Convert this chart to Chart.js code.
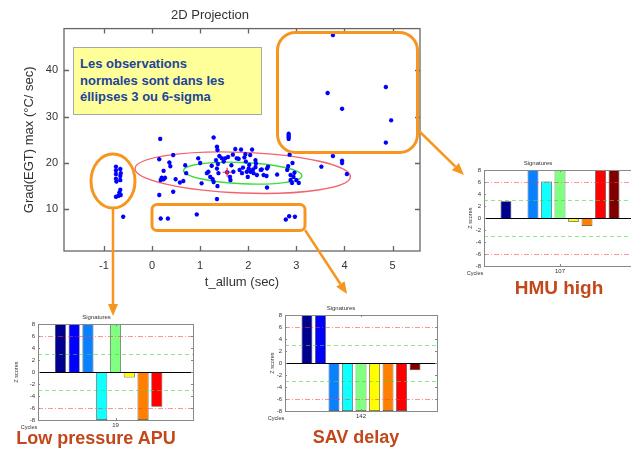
<!DOCTYPE html>
<html>
<head>
<meta charset="utf-8">
<script src="https://cdn.jsdelivr.net/npm/chart.js@4"></script>
<style>
    html, body { margin: 0; padding: 0; width: 631px; height: 449px; overflow: hidden; background: #fff; }
    body { position: relative; font-family: "Liberation Sans", Arial, sans-serif; }
    canvas { position: absolute; }
    .note {
        position: absolute; left: 73px; top: 47px; width: 189px; height: 68px; box-sizing: border-box;
        background: #ffff99; border: 1px solid #a8a8a8;
        padding: 8px 0 0 6px; color: #22449a; font-weight: bold; font-size: 13px; line-height: 16.7px;
    }
    .tag {
        position: absolute; width: 220px; text-align: center; color: #c2481c;
        font-weight: bold; line-height: 1; white-space: nowrap;
    }
</style>
</head>
<body>
<canvas id="projection" width="440" height="300" style="left:0;top:0"></canvas>
<div class="note">Les observations<br>normales sont dans les<br>éllipses 3 ou 6-sigma</div>
<canvas id="sigHmu" width="200" height="131" style="left:440px;top:150px"></canvas>
<canvas id="sigApu" width="200" height="131" style="left:0;top:304px"></canvas>
<canvas id="sigSav" width="200" height="131" style="left:245px;top:295px"></canvas>
<div class="tag" style="left:449px;top:278px;font-size:19px">HMU high</div>
<div class="tag" style="left:-14px;top:429px;font-size:18px">Low pressure APU</div>
<div class="tag" style="left:246px;top:428px;font-size:18px">SAV delay</div>
<canvas id="overlay" width="631" height="449" style="left:0;top:0;pointer-events:none"></canvas>

<script>
// --- 2D projection data ---
const xTicks = [-1, 0, 1, 2, 3, 4, 5];
const yTicks = [10, 20, 30, 40];

// nominal cloud
const cloudX = [0.15, 0.24, 0.20, 0.24, 0.27, 0.18, 0.15, 0.36, 0.38, 0.44, 0.44, 0.49, 0.58, 0.65, 0.69, 0.71,
    0.96, 1.00, 1.03, 1.14, 1.17, 1.24, 1.21, 1.26, 1.28, 1.35, 1.36, 1.40, 1.33, 1.37, 1.35, 1.38, 1.36, 1.35,
    1.45, 1.52, 1.49, 1.56, 1.65, 1.69, 1.63, 1.73, 1.76, 1.82, 1.87, 1.89, 1.92, 1.94, 1.97, 1.99, 2.04, 2.08,
    2.01, 2.05, 2.11, 2.10, 2.15, 2.15, 2.18, 2.26, 2.32, 2.38, 2.39, 2.60, 2.81, 2.92, 2.88, 2.94, 2.96, 2.88,
    2.91, 3.00, 3.05, 0.17, 1.28, 1.85, 2.39, 2.28, 2.83, 2.86, 1.58, 1.68, 1.80, 1.62, 2.02, 1.95, 2.16, 2.41,
    3.52, 4.05, 3.76, 3.95, 3.95];
const cloudY = [20.8, 18.3, 16.8, 16.5, 16.8, 16.3, 13.1, 20.1, 19.3, 21.7, 13.8, 16.5, 15.8, 16.1, 19.5, 17.8,
    21.0, 20.0, 15.6, 17.8, 18.1, 19.4, 17.0, 16.5, 15.9, 23.5, 22.8, 21.5, 20.6, 19.8, 18.8, 17.8, 15.0, 12.2,
    21.0, 21.0, 20.3, 18.0, 19.5, 18.1, 16.3, 23.0, 21.0, 18.5, 17.8, 19.0, 21.2, 21.9, 18.1, 17.0, 21.7, 22.9,
    18.8, 18.1, 17.8, 18.6, 20.6, 19.1, 17.4, 18.5, 17.4, 17.2, 18.8, 17.5, 18.5, 20.0, 17.4, 17.0, 17.9, 16.3,
    15.7, 16.3, 15.7, 25.2, 25.5, 22.9, 14.7, 18.6, 19.3, 21.8, 21.3, 21.8, 20.9, 17.0, 19.6, 20.3, 19.9, 19.2,
    19.2, 17.6, 21.5, 20.5, 20.0];

// low pressure APU group
const apuX = [-0.75, -0.66, -0.75, -0.65, -0.75, -0.66, -0.75, -0.66, -0.74, -0.66, -0.68, -0.65, -0.75, -0.70, -0.60];
const apuY = [19.2, 18.7, 18.4, 17.8, 17.6, 17.2, 16.6, 16.3, 16.0, 14.2, 13.6, 13.1, 12.7, 12.9, 8.4];

// SAV delay group
const savX = [0.18, 0.33, 0.93, 2.78, 2.85, 2.97];
const savY = [8.0, 8.0, 8.9, 7.8, 8.5, 8.4];

// HMU high group
const hmuX = [3.76, 3.65, 3.95, 4.86, 4.97, 4.86, 2.84, 2.84, 2.84, 2.84];
const hmuY = [47.6, 35.1, 31.7, 36.4, 29.2, 24.4, 25.2, 25.6, 26.0, 26.3];

const meanX = [1.56];
const meanY = [18.0];

// sigma ellipses: centre, half axes (data units), tilt (deg)
const sixSigma = { cx: 1.885, cy: 17.9, rx: 2.24, ry: 4.4, tilt: 2.2 };
const threeSigma = { cx: 1.885, cy: 17.8, rx: 1.23, ry: 2.3, tilt: 2.6 };

// --- signatures ---
const sigmaLevels = [3, 6];
const hmuCycle = ["107"];
const hmuScores = [2.8, -0.1, 8, 6.1, 8, -0.6, -1.3, 8, 8];
const apuCycle = ["19"];
const apuScores = [8, 8, 8, -8, 8, -0.9, -8, -5.8, -0.1];
const savCycle = ["142"];
const savScores = [8, 8, -8, -8, -8, -8, -8, -8, -1.2];
const jetColors = ["#00008f", "#0000ff", "#0a80ff", "#10ffff", "#80ff80", "#ffff00", "#ff8000", "#ff0000", "#800000"];

Chart.defaults.font.family = "'Liberation Sans', Arial, sans-serif";
Chart.defaults.color = "#333";

const toPoints = (xs, ys) => xs.map((x, i) => ({ x, y: ys[i] }));

const projectionDecor = {
    id: "projectionDecor",
    beforeDatasetsDraw(chart) {
        const { ctx, scales: { x, y } } = chart;
        [[sixSigma, "#f4636d"], [threeSigma, "#3ade3a"]].forEach(([e, color]) => {
            const cx = x.getPixelForValue(e.cx);
            const cy = y.getPixelForValue(e.cy);
            const rx = x.getPixelForValue(e.cx + e.rx) - cx;
            const ry = cy - y.getPixelForValue(e.cy + e.ry);
            ctx.save();
            ctx.strokeStyle = color;
            ctx.lineWidth = 1.4;
            ctx.beginPath();
            ctx.ellipse(cx, cy, rx, ry, e.tilt * Math.PI / 180, 0, Math.PI * 2);
            ctx.stroke();
            ctx.restore();
        });
    },
    afterDraw(chart) {
        const { ctx, chartArea: { left, right, top, bottom }, scales: { x, y } } = chart;
        ctx.save();
        ctx.strokeStyle = "#666";
        ctx.lineWidth = 1.3;
        ctx.strokeRect(left, top, right - left, bottom - top);
        ctx.beginPath();
        xTicks.forEach(v => {
            const px = Math.round(x.getPixelForValue(v)) + 0.5;
            ctx.moveTo(px, bottom); ctx.lineTo(px, bottom - 5);
            ctx.moveTo(px, top); ctx.lineTo(px, top + 5);
        });
        yTicks.forEach(v => {
            const py = Math.round(y.getPixelForValue(v)) + 0.5;
            ctx.moveTo(left, py); ctx.lineTo(left + 5, py);
            ctx.moveTo(right, py); ctx.lineTo(right - 5, py);
        });
        ctx.stroke();
        ctx.restore();
    }
};

const starStyle = { pointStyle: "star", pointRadius: 2.2, borderColor: "#0000ff", backgroundColor: "#0000ff", borderWidth: 1.3 };

new Chart(document.getElementById("projection"), {
    type: "scatter",
    data: {
        datasets: [
            { data: toPoints(meanX, meanY), pointStyle: "cross", pointRadius: 4.5, borderColor: "#ff2a2a", borderWidth: 1.2 },
            { data: toPoints(cloudX, cloudY), ...starStyle },
            { data: toPoints(apuX, apuY), ...starStyle },
            { data: toPoints(savX, savY), ...starStyle },
            { data: toPoints(hmuX, hmuY), ...starStyle }
        ]
    },
    options: {
        responsive: false,
        animation: false,
        devicePixelRatio: 1,
        layout: { padding: { left: 0, right: 20, top: 0, bottom: 0 } },
        plugins: {
            legend: { display: false },
            tooltip: { enabled: false },
            title: { display: true, text: "2D Projection", font: { size: 13, weight: "normal" }, color: "#333", padding: { top: 8, bottom: 5 } }
        },
        scales: {
            x: {
                type: "linear", min: -1.83, max: 5.57,
                afterBuildTicks: s => { s.ticks = xTicks.map(v => ({ value: v })); },
                afterFit: s => { s.height = 49; },
                grid: { display: false, tickLength: 0 }, border: { display: false },
                ticks: { font: { size: 11 }, padding: 8 },
                title: { display: true, text: "t_allum (sec)", font: { size: 13 }, padding: { top: 0, bottom: 10 } }
            },
            y: {
                min: 1, max: 49,
                afterBuildTicks: s => { s.ticks = yTicks.map(v => ({ value: v })); },
                afterFit: s => { s.width = 64; },
                grid: { display: false, tickLength: 0 }, border: { display: false },
                ticks: { font: { size: 11 }, padding: 6 },
                title: { display: true, text: "Grad(EGT) max (°C/ sec)", font: { size: 13 }, padding: { top: 22, bottom: 0 } }
            }
        }
    },
    plugins: [projectionDecor]
});

const signatureDecor = {
    id: "signatureDecor",
    afterDatasetsDraw(chart, args, opts) {
        const { ctx, chartArea: { left, right, top, bottom }, scales: { x, y } } = chart;
        ctx.save();
        // sigma thresholds
        sigmaLevels.forEach(level => {
            ctx.strokeStyle = level === 6 ? "rgba(255,60,60,0.55)" : "rgba(60,220,60,0.6)";
            ctx.setLineDash(level === 6 ? [5, 2, 1, 2] : [4, 3]);
            ctx.lineWidth = 1;
            [level, -level].forEach(v => {
                const py = Math.round(y.getPixelForValue(v)) + 0.5;
                ctx.beginPath(); ctx.moveTo(left, py); ctx.lineTo(right, py); ctx.stroke();
            });
        });
        ctx.setLineDash([]);
        // baseline
        const zy = Math.round(y.getPixelForValue(0)) + 0.5;
        ctx.strokeStyle = "#000";
        ctx.beginPath(); ctx.moveTo(left, zy); ctx.lineTo(right, zy); ctx.stroke();
        // box and ticks
        ctx.strokeStyle = "#888";
        ctx.strokeRect(Math.round(left) + 0.5, Math.round(top) + 0.5, Math.round(right - left), Math.round(bottom - top));
        ctx.beginPath();
        y.ticks.forEach(t => {
            const py = Math.round(y.getPixelForValue(t.value)) + 0.5;
            ctx.moveTo(left, py); ctx.lineTo(left + 2, py);
            ctx.moveTo(right, py); ctx.lineTo(right - 2, py);
        });
        const cx = Math.round(x.getPixelForValue(0)) + 0.5;
        ctx.moveTo(cx, bottom); ctx.lineTo(cx, bottom - 2);
        ctx.moveTo(cx, top); ctx.lineTo(cx, top + 2);
        ctx.stroke();
        // side texts
        ctx.fillStyle = "#333";
        ctx.font = "5.5px 'Liberation Sans', Arial, sans-serif";
        ctx.textAlign = "center";
        ctx.textBaseline = "middle";
        ctx.fillText("Cycles", left - 9, bottom + 7.5);
        ctx.translate(left + opts.zOffset, (top + bottom) / 2);
        ctx.rotate(-Math.PI / 2);
        ctx.fillText("Z scores", 0, 0);
        ctx.restore();
    }
};

function signatureChart(id, cycle, scores, axisWidth, padRight, zOffset) {
    return new Chart(document.getElementById(id), {
        type: "bar",
        data: {
            labels: cycle,
            datasets: scores.map((v, i) => ({
                data: [v],
                backgroundColor: jetColors[i],
                borderColor: "#333",
                borderWidth: 0.7,
                categoryPercentage: 0.8,
                barPercentage: 0.8
            }))
        },
        options: {
            responsive: false,
            animation: false,
            devicePixelRatio: 1,
            layout: { padding: { left: 0, right: padRight, top: 0, bottom: 0 } },
            plugins: {
                legend: { display: false },
                tooltip: { enabled: false },
                title: { display: true, text: "Signatures", font: { size: 6, weight: "normal" }, color: "#333", padding: { top: 10, bottom: 3 } },
                signatureDecor: { zOffset }
            },
            scales: {
                x: {
                    grid: { display: false, tickLength: 0 }, border: { display: false },
                    ticks: { font: { size: 6 }, padding: 2 },
                    afterFit: s => { s.height = 15; }
                },
                y: {
                    min: -8, max: 8,
                    grid: { display: false, tickLength: 0 }, border: { display: false },
                    ticks: { stepSize: 2, font: { size: 6 }, padding: 3 },
                    afterFit: s => { s.width = axisWidth; }
                }
            }
        },
        plugins: [signatureDecor]
    });
}

signatureChart("sigHmu", hmuCycle, hmuScores, 44, 4, -14);
signatureChart("sigApu", apuCycle, apuScores, 38, 7, -22);
signatureChart("sigSav", savCycle, savScores, 40, 8, -13);

// --- orange call-outs over the slide ---
(function drawCallouts() {
    const ctx = document.getElementById("overlay").getContext("2d");
    const orange = "#f7961e";
    ctx.strokeStyle = orange;
    ctx.fillStyle = orange;
    ctx.lineWidth = 3;
    ctx.lineJoin = "round";

    function rounded(x, y, w, h, r) {
        ctx.beginPath();
        ctx.moveTo(x + r, y);
        ctx.arcTo(x + w, y, x + w, y + h, r);
        ctx.arcTo(x + w, y + h, x, y + h, r);
        ctx.arcTo(x, y + h, x, y, r);
        ctx.arcTo(x, y, x + w, y, r);
        ctx.closePath();
        ctx.stroke();
    }

    function arrow(x1, y1, x2, y2) {
        const a = Math.atan2(y2 - y1, x2 - x1);
        const len = 12, half = 5;
        const bx = x2 - len * Math.cos(a), by = y2 - len * Math.sin(a);
        ctx.lineWidth = 2.5;
        ctx.beginPath(); ctx.moveTo(x1, y1); ctx.lineTo(bx, by); ctx.stroke();
        ctx.beginPath();
        ctx.moveTo(x2, y2);
        ctx.lineTo(bx + half * Math.sin(a), by - half * Math.cos(a));
        ctx.lineTo(bx - half * Math.sin(a), by + half * Math.cos(a));
        ctx.closePath();
        ctx.fill();
        ctx.lineWidth = 3;
    }

    rounded(277.5, 32.5, 140, 120, 18);
    arrow(419, 131, 464, 175);

    ctx.beginPath();
    ctx.ellipse(113, 181, 22, 27, 0, 0, Math.PI * 2);
    ctx.stroke();
    arrow(113, 208, 113, 316);

    rounded(152, 204.5, 153, 26, 5);
    arrow(305, 230, 347, 294);
})();
</script>
</body>
</html>
